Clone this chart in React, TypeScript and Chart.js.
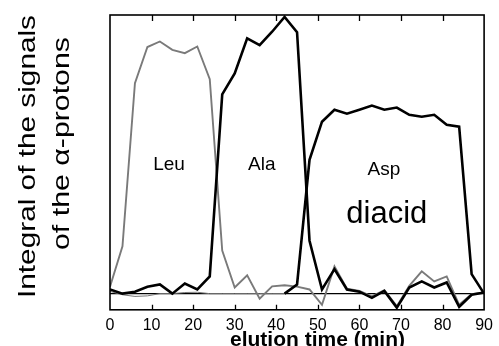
import React, { useEffect, useRef } from "react";
import { Chart, registerables } from "chart.js";

Chart.register(...registerables);

// elution times (min)
const times = [0, 3, 6, 9, 12, 15, 18, 21, 24, 27, 30, 33, 36, 39, 42, 45, 48, 51, 54, 57, 60, 63, 66, 69, 72, 75, 78, 81, 84, 87, 90];

// integrals (arbitrary units, top of frame = 100)
const leu = [2.5, 17, 75.5, 88.5, 90.5, 87.5, 86.3, 88.7, 77, 15.5, 2.2, 6.6, -1.8, 2.6, 3, 2.5, 1.5, -4, 9.8, 1.8, 1, -1, 1.2, -4.5, 2.8, 8, 4.4, 6.2, -4, -0.2, 0.4];
const ala = [1.5, 0, 0.7, 2.5, 3.3, 0, 3.6, 1.5, 6.2, 71.5, 79, 91.6, 89.2, 94, 99.3, 93.8, 19, 1.5, 8.8, 1.5, 0.7, -1.5, 1, -5, 2.2, 4.4, 2.2, 4, -4.7, -0.4, 0.4];
const asp = [0.8, -0.4, -1, -0.8, 0, 0, 0.4, 0.5, 0, 0, 0, 0, 0, 0, 0, 3.3, 48, 61.7, 66, 64.6, 66, 67.5, 66, 66.8, 64.2, 63.5, 64.2, 60.6, 59.9, 7, 0];
const baseline = times.map(() => 0);

const xTickValues = [0, 10, 20, 30, 40, 50, 60, 70, 80, 90];
const xTitle = "elution time (min)";
const yTitleLines = ["Integral of the signals", "of the \u03b1-protons"];
const peakNames = ["Leu", "Ala", "Asp", "diacid"];
const peakAt = [
  { t: 14.2, v: 44.2, size: 19 },
  { t: 36.5, v: 44.2, size: 19 },
  { t: 65.9, v: 42.7, size: 19 },
  { t: 66.6, v: 25.2, size: 31 },
];

const FONT = "'Liberation Sans', Arial, Helvetica, sans-serif";

const decorPlugin = {
  id: "decor",
  afterDatasetsDraw(chart: any) {
    const ctx = chart.ctx as CanvasRenderingContext2D;
    const { left, right, top, bottom } = chart.chartArea;
    const xs = chart.scales.x;
    const ys = chart.scales.y;
    ctx.save();
    // frame
    ctx.strokeStyle = "#000";
    ctx.lineWidth = 1.6;
    ctx.strokeRect(left, top, right - left, bottom - top);
    // inward ticks
    ctx.lineWidth = 1.3;
    xTickValues.forEach((v) => {
      if (v === xs.min || v === xs.max) return;
      const px = Math.round(xs.getPixelForValue(v)) + 0.5;
      ctx.beginPath();
      ctx.moveTo(px, top);
      ctx.lineTo(px, top + 6);
      ctx.moveTo(px, bottom);
      ctx.lineTo(px, bottom - 5);
      ctx.stroke();
    });
    // peak names
    ctx.fillStyle = "#000";
    ctx.textAlign = "center";
    ctx.textBaseline = "alphabetic";
    peakNames.forEach((name, i) => {
      const p = peakAt[i];
      ctx.font = `${p.size}px ${FONT}`;
      ctx.fillText(name, xs.getPixelForValue(p.t), ys.getPixelForValue(p.v));
    });
    ctx.restore();
  },
  afterDraw(chart: any) {
    const ctx = chart.ctx as CanvasRenderingContext2D;
    ctx.save();
    ctx.fillStyle = "#000";
    // y title (two rotated lines)
    const yLines = [
      { x: 35, cy: 156.5, len: 283 },
      { x: 69, cy: 143.5, len: 213 },
    ];
    yTitleLines.forEach((txt, i) => {
      const l = yLines[i];
      ctx.save();
      ctx.translate(l.x, l.cy);
      ctx.rotate(-Math.PI / 2);
      ctx.font = `24px ${FONT}`;
      const w = ctx.measureText(txt).width;
      ctx.scale(l.len / w, 1);
      ctx.textAlign = "center";
      ctx.textBaseline = "alphabetic";
      ctx.fillText(txt, 0, 0);
      ctx.restore();
    });
    // x title
    ctx.font = `bold 21px ${FONT}`;
    ctx.textAlign = "center";
    ctx.textBaseline = "alphabetic";
    ctx.fillText(xTitle, 317.5, 346);
    ctx.restore();
  },
};

export default function App() {
  const ref = useRef<HTMLCanvasElement | null>(null);
  useEffect(() => {
    document.body.style.margin = "0";
    if (!ref.current) return;
    const chart = new Chart(ref.current, {
      type: "line",
      data: {
        labels: times,
        datasets: [
          {
            label: "Ala",
            data: times.map((t, i) => ({ x: t, y: ala[i] })),
            borderColor: "#000",
            borderWidth: 2.6,
            pointRadius: 0,
            tension: 0,
            order: 1,
          },
          {
            label: "Asp",
            data: times.map((t, i) => ({ x: t, y: asp[i] })),
            borderColor: "#000",
            borderWidth: 2.6,
            pointRadius: 0,
            tension: 0,
            order: 2,
            segment: {
              borderWidth: (c: any) => (c.p1DataIndex <= 14 ? 1 : 2.6),
              borderColor: (c: any) => (c.p1DataIndex <= 14 ? "#777" : "#000"),
            },
          },
          {
            label: "Leu",
            data: times.map((t, i) => ({ x: t, y: leu[i] })),
            borderColor: "#7a7a7a",
            borderWidth: 1.9,
            pointRadius: 0,
            tension: 0,
            order: 3,
          },
          {
            label: "baseline",
            data: times.map((t, i) => ({ x: t, y: baseline[i] })),
            borderColor: "#000",
            borderWidth: 1.1,
            pointRadius: 0,
            tension: 0,
            order: 4,
          },
        ],
      },
      options: {
        animation: false,
        responsive: false,
        layout: { padding: { left: 110, right: 11, top: 15, bottom: 5 } },
        plugins: {
          legend: { display: false },
          tooltip: { enabled: false },
          title: { display: false },
        },
        scales: {
          x: {
            type: "linear",
            min: 0,
            max: 90,
            grid: { display: false, drawTicks: false },
            border: { display: false },
            ticks: {
              stepSize: 10,
              autoSkip: false,
              maxRotation: 0,
              padding: 6,
              color: "#000",
              font: { size: 16, family: FONT },
            },
          },
          y: {
            display: false,
            min: -5.8,
            max: 100,
          },
        },
      },
      plugins: [decorPlugin],
    });
    return () => chart.destroy();
  }, []);
  return (
    <div style={{ width: 499, height: 346, background: "#fff" }}>
      <canvas ref={ref} width={499} height={346} style={{ display: "block" }} />
    </div>
  );
}
